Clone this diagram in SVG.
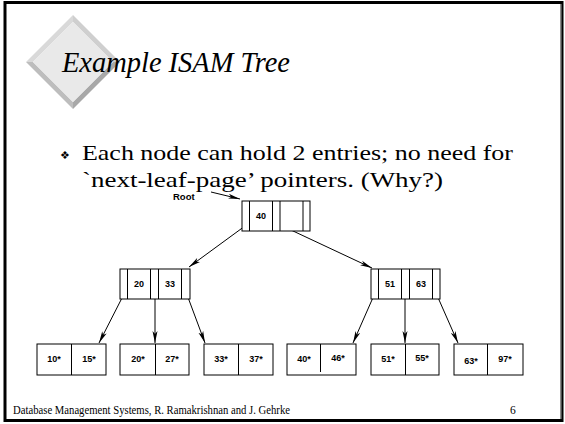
<svg xmlns="http://www.w3.org/2000/svg" width="565" height="424" viewBox="0 0 565 424">
<defs>
<style>
.frame{fill:none;stroke:#000;stroke-width:3}
.box{fill:#fff;stroke:#000;stroke-width:1}
.div{stroke:#000;stroke-width:1}
.key{font-family:"Liberation Sans",Arial,sans-serif;font-weight:bold;font-size:9px;text-anchor:middle}
.edge{stroke:#000;stroke-width:1;fill:none;marker-end:url(#ah)}
.title{font-family:"Liberation Serif","Times New Roman",serif;font-style:italic;font-size:30px}
.body{font-family:"Liberation Serif","Times New Roman",serif;font-size:21px}
.foot{font-family:"Liberation Serif","Times New Roman",serif;font-size:11.5px}
</style>
<marker id="ah" viewBox="0 0 12 6" refX="12" refY="3" markerWidth="12" markerHeight="6" markerUnits="userSpaceOnUse" orient="auto">
<path d="M0,0.5 L12,3 L0,5.5 L3,3 Z" fill="#000"/>
</marker>
</defs>
<rect x="0" y="0" width="565" height="424" fill="#fff"/>
<rect class="frame" x="5" y="2.5" width="557" height="418"/>
<line x1="561" y1="4" x2="561" y2="419" stroke="#999" stroke-width="1"/>

<g id="logo">
<polygon points="73,15 26,62 33,62 73,22" fill="#d9d9d9"/>
<polygon points="73,15 120,62 113,62 73,22" fill="#cfcfcf"/>
<polygon points="26,62 73,109 73,102 33,62" fill="#bdbdbd"/>
<polygon points="120,62 73,109 73,102 113,62" fill="#a8a8a8"/>
<polygon points="73,22 113,62 73,102 33,62" fill="#e9e9e9"/>
</g>
<text class="title" x="62" y="72" textLength="228" lengthAdjust="spacingAndGlyphs">Example ISAM Tree</text>

<g id="bullet">
<text x="60" y="159" font-family="DejaVu Sans,sans-serif" font-size="11">❖</text>
<text class="body" x="82" y="160" textLength="431" lengthAdjust="spacingAndGlyphs">Each node can hold 2 entries; no need for</text>
<text class="body" x="82" y="187" textLength="361" lengthAdjust="spacingAndGlyphs">`next-leaf-page’ pointers.  (Why?)</text>
</g>

<g id="root-label">
<text x="173" y="199.5" font-family="Liberation Sans,Arial,sans-serif" font-weight="bold" font-size="9.5">Root</text>
</g>

<g id="connectors">
<line class="edge" x1="211" y1="192" x2="240" y2="199"/>
<line class="edge" x1="245" y1="226" x2="189" y2="267"/>
<line class="edge" x1="276" y1="223" x2="372" y2="268"/>
<line class="edge" x1="124" y1="294" x2="99" y2="343"/>
<line class="edge" x1="155" y1="292" x2="155" y2="343"/>
<line class="edge" x1="186" y1="292" x2="205" y2="343"/>
<line class="edge" x1="375" y1="293" x2="353" y2="343"/>
<line class="edge" x1="405" y1="292" x2="405" y2="343"/>
<line class="edge" x1="436" y1="293" x2="458" y2="343"/>
</g>

<g id="node-root">
<rect class="box" x="242" y="201" width="68" height="30"/>
<line class="div" x1="249.5" y1="201" x2="249.5" y2="231"/>
<line class="div" x1="272.5" y1="201" x2="272.5" y2="231"/>
<line class="div" x1="280" y1="201" x2="280" y2="231"/>
<line class="div" x1="303" y1="201" x2="303" y2="231"/>
<text class="key" x="261" y="219">40</text>
</g>

<g id="node-left">
<rect class="box" x="120" y="269" width="70" height="30"/>
<line class="div" x1="127.5" y1="269" x2="127.5" y2="299"/>
<line class="div" x1="150.5" y1="269" x2="150.5" y2="299"/>
<line class="div" x1="158.5" y1="269" x2="158.5" y2="299"/>
<line class="div" x1="181.5" y1="269" x2="181.5" y2="299"/>
<text class="key" x="139" y="287">20</text>
<text class="key" x="170" y="287">33</text>
</g>

<g id="node-right">
<rect class="box" x="371" y="269" width="69" height="30"/>
<line class="div" x1="378.5" y1="269" x2="378.5" y2="299"/>
<line class="div" x1="401.5" y1="269" x2="401.5" y2="299"/>
<line class="div" x1="409.5" y1="269" x2="409.5" y2="299"/>
<line class="div" x1="432.5" y1="269" x2="432.5" y2="299"/>
<text class="key" x="390" y="287">51</text>
<text class="key" x="421" y="287">63</text>
</g>

<g id="leaf1">
<rect class="box" x="37" y="344" width="69" height="31"/>
<line class="div" x1="71.5" y1="344" x2="71.5" y2="375"/>
<text class="key" x="54" y="362">10*</text>
<text class="key" x="89" y="362">15*</text>
</g>
<g id="leaf2">
<rect class="box" x="120" y="344" width="69" height="31"/>
<line class="div" x1="155.5" y1="344" x2="155.5" y2="375" stroke-width="1.5"/>
<text class="key" x="138" y="362">20*</text>
<text class="key" x="172" y="362">27*</text>
</g>
<g id="leaf3">
<rect class="box" x="204" y="344" width="69" height="31"/>
<line class="div" x1="238.5" y1="344" x2="238.5" y2="375"/>
<text class="key" x="221" y="362">33*</text>
<text class="key" x="256" y="362">37*</text>
</g>
<g id="leaf4">
<rect class="box" x="287" y="344" width="69" height="31"/>
<line class="div" x1="320.5" y1="344" x2="320.5" y2="372"/>
<text class="key" x="304" y="362">40*</text>
<text class="key" x="338" y="360.5">46*</text>
</g>
<g id="leaf5">
<rect class="box" x="371" y="344" width="68" height="31"/>
<line class="div" x1="405.5" y1="344" x2="405.5" y2="375"/>
<text class="key" x="388" y="362">51*</text>
<text class="key" x="422" y="360.5">55*</text>
</g>
<g id="leaf6">
<rect class="box" x="454" y="344" width="69" height="31"/>
<line class="div" x1="487.5" y1="344" x2="487.5" y2="375"/>
<text class="key" x="471" y="363.5">63*</text>
<text class="key" x="505" y="362">97*</text>
</g>

<text class="foot" x="13" y="414" textLength="277" lengthAdjust="spacingAndGlyphs">Database Management Systems, R. Ramakrishnan and J. Gehrke</text>
<text class="foot" x="510" y="414">6</text>
</svg>
